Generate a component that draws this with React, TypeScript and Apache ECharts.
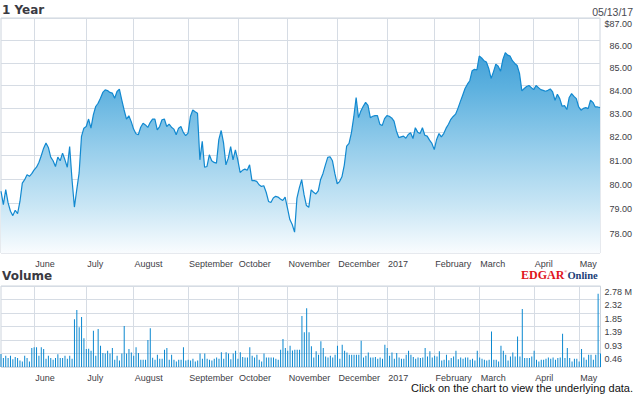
import React, { useEffect, useRef } from 'react';
import * as echarts from 'echarts';

// ---- Data ----
const START_DATE = '2016-05-11';
const END_DATE = '2017-05-12';
const HOLIDAYS = ['2016-05-30', '2016-07-04', '2016-09-05', '2016-11-24', '2016-12-26', '2017-01-02', '2017-01-16', '2017-02-20', '2017-04-14'];

const MONTH_LABELS: Record<string, string> = {
  '2016-06': 'June', '2016-07': 'July', '2016-08': 'August', '2016-09': 'September',
  '2016-10': 'October', '2016-11': 'November', '2016-12': 'December', '2017-01': '2017',
  '2017-02': 'February', '2017-03': 'March', '2017-04': 'April', '2017-05': 'May',
};

const PRICE_TICKS = [78, 79, 80, 81, 82, 83, 84, 85, 86, 87];
const VOLUME_MAX = 2.78;

const PRICE = [
  79.51, 78.96, 79.58, 79.03, 78.69, 78.51, 78.73, 78.59, 79.09, 79.85,
  79.99, 80.20, 80.13, 80.24, 80.40, 80.51, 80.71, 80.99, 81.31, 81.53,
  81.34, 80.93, 80.78, 80.54, 80.93, 80.78, 81.10, 80.82, 80.51, 81.38,
  79.99, 78.86, 79.58, 80.27, 81.81, 82.16, 82.23, 82.55, 82.16, 82.73,
  83.09, 83.23, 83.45, 83.70, 83.81, 83.78, 83.70, 83.67, 83.45, 83.74,
  83.84, 83.38, 82.94, 82.55, 82.69, 82.44, 82.12, 81.92, 81.88, 82.20,
  82.37, 82.30, 82.19, 82.40, 82.55, 82.55, 82.09, 82.23, 82.52, 82.55,
  82.23, 82.33, 82.20, 82.12, 81.88, 82.16, 82.23, 81.98, 81.84, 81.95,
  82.66, 82.94, 82.86, 82.80, 80.82, 81.60, 80.51, 80.54, 81.03, 80.78,
  80.71, 80.68, 81.67, 82.06, 81.53, 80.61, 80.89, 81.38, 80.82, 81.24,
  80.82, 80.29, 80.38, 80.43, 80.38, 80.61, 79.95, 79.95, 79.92, 79.78,
  79.71, 79.74, 79.47, 79.09, 79.05, 79.23, 79.30, 79.27, 79.19, 79.13,
  79.27, 78.82, 78.35, 78.15, 77.84, 79.23, 79.65, 79.99, 79.37, 78.92,
  78.85, 79.57, 79.47, 79.40, 79.53, 80.00, 80.25, 80.60, 80.92, 80.95,
  80.78, 80.25, 79.82, 79.91, 80.11, 80.60, 81.40, 81.51, 81.96, 82.64,
  83.48, 82.61, 82.90, 83.10, 83.27, 83.14, 82.61, 82.67, 82.70, 82.70,
  82.33, 82.27, 82.57, 82.70, 82.67, 82.60, 82.46, 82.04, 81.76, 81.79,
  81.82, 81.73, 81.89, 81.96, 81.72, 82.18, 81.99, 81.93, 82.18, 81.86,
  81.82, 81.65, 81.51, 81.25, 81.68, 81.93, 81.79, 81.93, 82.16, 82.33,
  82.54, 82.66, 82.76, 83.01, 83.30, 83.58, 83.87, 84.06, 84.21, 84.65,
  84.71, 84.68, 85.30, 85.21, 85.09, 85.03, 84.75, 84.31, 84.60, 84.94,
  84.85, 84.63, 85.15, 85.45, 85.34, 85.30, 85.09, 84.97, 84.88, 84.53,
  83.77, 83.87, 83.96, 84.00, 83.91, 83.82, 84.00, 83.91, 83.82, 83.79,
  83.75, 83.79, 83.85, 83.72, 83.36, 83.62, 83.43, 83.10, 83.13, 82.96,
  83.48, 83.65, 83.53, 83.43, 83.07, 82.93, 83.01, 83.04, 83.00, 83.36,
  83.27, 83.07, 83.07, 83.04,
];

const VOLUME = [
  0.45, 0.31, 0.39, 0.31, 0.39, 0.27, 0.34, 0.31, 0.22, 0.19,
  0.39, 0.31, 0.19, 0.65, 0.68, 0.68, 0.39, 0.68, 0.62, 0.28,
  0.39, 0.31, 0.25, 0.31, 0.44, 0.31, 0.31, 0.39, 0.28, 0.39,
  0.28, 1.64, 1.96, 1.36, 1.72, 0.99, 0.62, 0.63, 0.56, 1.24,
  0.39, 1.30, 0.73, 0.48, 0.46, 0.56, 0.46, 0.65, 0.25, 0.39,
  0.22, 0.46, 1.41, 0.46, 0.62, 0.50, 0.39, 0.68, 0.48, 0.25,
  0.25, 0.25, 0.93, 1.33, 0.32, 0.25, 0.42, 0.28, 0.28, 0.59,
  0.65, 0.25, 0.42, 0.25, 0.19, 0.25, 0.25, 0.68, 0.22, 0.25,
  0.22, 0.28, 0.19, 0.22, 0.46, 0.28, 0.46, 0.28, 0.25, 0.22,
  0.28, 0.33, 0.28, 0.51, 0.28, 0.51, 0.46, 0.27, 0.46, 0.56,
  0.28, 0.51, 0.34, 0.33, 0.33, 0.68, 0.39, 0.33, 0.42, 0.25,
  0.19, 0.46, 0.33, 0.33, 0.33, 0.33, 0.28, 0.25, 0.59, 0.96,
  0.65, 0.56, 0.73, 0.57, 0.59, 0.59, 0.59, 1.75, 1.19, 2.02,
  1.19, 0.71, 0.33, 0.54, 0.42, 0.88, 0.65, 0.36, 0.33, 0.39,
  0.33, 0.42, 0.73, 0.28, 0.76, 0.56, 0.50, 0.42, 0.42, 0.42,
  0.42, 0.42, 0.90, 0.33, 0.39, 0.50, 0.33, 0.33, 0.34, 0.28,
  0.33, 0.28, 0.76, 0.65, 0.39, 0.50, 0.28, 0.48, 0.33, 0.28,
  0.28, 0.42, 0.56, 0.42, 0.34, 0.28, 0.33, 0.31, 0.33, 0.65,
  0.36, 0.54, 0.33, 0.39, 0.36, 0.54, 0.22, 0.25, 0.42, 0.23,
  0.31, 0.36, 0.56, 0.27, 0.33, 0.28, 0.33, 0.33, 0.25, 0.28,
  0.22, 0.56, 0.33, 0.28, 0.25, 0.22, 0.25, 1.22, 0.25, 0.25,
  0.19, 0.73, 0.56, 0.42, 0.22, 0.36, 0.50, 0.36, 1.05, 0.36,
  1.99, 0.31, 0.31, 0.31, 0.36, 0.56, 0.25, 0.19, 0.25, 0.25,
  0.28, 0.33, 0.28, 0.33, 0.25, 0.31, 0.33, 1.14, 0.31, 0.65,
  0.31, 0.19, 0.28, 0.28, 0.19, 0.62, 0.33, 0.25, 0.42, 0.42,
  0.25, 0.42, 2.51, 0.46,
];

function tradingDays(): string[] {
  const out: string[] = [];
  const d = new Date(START_DATE + 'T12:00:00Z');
  const end = new Date(END_DATE + 'T12:00:00Z');
  while (d <= end) {
    const wd = d.getUTCDay();
    const s = d.toISOString().slice(0, 10);
    if (wd !== 0 && wd !== 6 && HOLIDAYS.indexOf(s) < 0) out.push(s);
    d.setUTCDate(d.getUTCDate() + 1);
  }
  return out;
}

const DATES = tradingDays();

// ---- Styles ----
const FONT = '"Liberation Sans", Arial, sans-serif';
const TEXT = '#3d3d45';
const GRID_LINE = '#d6dce4';
const BORDER = '#cdd4dd';
const BLUE = '#1289d0';

const isMonthStart = (i: number) => i > 0 && DATES[i].slice(0, 7) !== DATES[i - 1].slice(0, 7);

export default function App() {
  const ref = useRef<HTMLDivElement>(null);

  useEffect(() => {
    if (!ref.current) return;
    const chart = echarts.init(ref.current, undefined, { renderer: 'svg' });

    const xAxisBase = (gridIndex: number) => ({
      type: 'category' as const,
      gridIndex,
      data: DATES,
      boundaryGap: false,
      axisLine: { show: false },
      axisTick: { show: false },
      axisLabel: {
        interval: (i: number) => isMonthStart(i),
        formatter: (v: string) => MONTH_LABELS[v.slice(0, 7)] || '',
        align: 'left',
        margin: 6,
        padding: [0, 0, 0, 1],
        fontSize: 9,
        fontFamily: FONT,
        color: TEXT,
      },
      splitLine: {
        show: true,
        interval: (i: number) => isMonthStart(i),
        lineStyle: { color: GRID_LINE, width: 1 },
      },
    });

    const option: any = {
      animation: false,
      backgroundColor: '#ffffff',
      grid: [
        { left: 1, top: 18, width: 601, height: 235, show: true, borderColor: BORDER, borderWidth: 1, backgroundColor: 'transparent' },
        { left: 1, top: 286, width: 601, height: 81, show: true, borderColor: BORDER, borderWidth: 1, backgroundColor: 'transparent' },
      ],
      xAxis: [xAxisBase(0), xAxisBase(1)],
      yAxis: [
        {
          type: 'log',
          logBase: 10,
          gridIndex: 0,
          min: 77,
          max: 87,
          position: 'right',
          axisLine: { show: false },
          axisTick: { show: false, customValues: PRICE_TICKS },
          axisLabel: {
            customValues: PRICE_TICKS,
            formatter: (v: number) => {
              const r = Math.round(v);
              return (r === 87 ? '$' : '') + r.toFixed(2);
            },
            align: 'right',
            margin: 32,
            verticalAlign: 'top',
            lineHeight: 11,
            fontSize: 9,
            fontFamily: FONT,
            color: TEXT,
          },
          splitLine: { show: true, lineStyle: { color: GRID_LINE, width: 1 } },
        },
        {
          type: 'value',
          gridIndex: 1,
          min: 0,
          max: VOLUME_MAX,
          interval: VOLUME_MAX / 6,
          position: 'right',
          axisLine: { show: false },
          axisTick: { show: false },
          axisLabel: {
            formatter: (v: number) => {
              if (v < 0.01) return '';
              if (Math.abs(v - VOLUME_MAX) < 0.01) return v.toFixed(2) + ' M';
              return v.toFixed(2);
            },
            align: 'left',
            margin: 4,
            verticalAlign: 'top',
            lineHeight: 11,
            fontSize: 9,
            fontFamily: FONT,
            color: TEXT,
          },
          splitLine: { show: true, lineStyle: { color: GRID_LINE, width: 1 } },
        },
      ],
      series: [
        {
          type: 'line',
          xAxisIndex: 0,
          yAxisIndex: 0,
          data: PRICE,
          showSymbol: false,
          symbol: 'none',
          lineStyle: { color: BLUE, width: 1.2 },
          areaStyle: {
            origin: 'start',
            color: new echarts.graphic.LinearGradient(0, 18, 0, 253, [
              { offset: 0, color: '#2a8fd0' },
              { offset: 0.3, color: '#5db1df' },
              { offset: 0.55, color: '#95cdeb' },
              { offset: 0.8, color: '#c9e6f5' },
              { offset: 1, color: '#f9fcfe' },
            ], true),
            opacity: 1,
          },
        },
        {
          type: 'bar',
          xAxisIndex: 1,
          yAxisIndex: 1,
          data: VOLUME,
          barWidth: 1,
          itemStyle: { color: '#0b88d0' },
        },
      ],
      graphic: [
        { type: 'text', x: 2, y: 10, style: { text: '1 Year', font: 'bold 12px "DejaVu Sans"', fill: '#3a3a42', verticalAlign: 'middle' } },
        { type: 'text', x: 633, y: 12, style: { text: '05/13/17', font: '10.5px "Liberation Sans"', fill: '#4a4a52', align: 'right', verticalAlign: 'middle' } },
        { type: 'text', x: 2, y: 276, style: { text: 'Volume', font: 'bold 12px "DejaVu Sans"', fill: '#3a3a42', verticalAlign: 'middle' } },
        {
          type: 'text',
          x: 521,
          y: 275,
          style: {
            text: '{a|EDGAR}{b|®}{c|Online}',
            verticalAlign: 'middle',
            rich: {
              a: { fontFamily: '"Liberation Serif"', fontWeight: 'bold', fontSize: 12, fill: '#e0141c', color: '#e0141c' },
              b: { fontFamily: '"Liberation Serif"', fontSize: 4, fill: '#e0141c', color: '#e0141c', verticalAlign: 'top' },
              c: { fontFamily: '"Liberation Serif"', fontWeight: 'bold', fontSize: 10.5, fill: '#1c3f78', color: '#1c3f78' },
            },
          },
        },
        { type: 'text', x: 633, y: 388, style: { text: 'Click on the chart to view the underlying data.', font: '11px "Liberation Sans"', fill: '#111111', align: 'right', verticalAlign: 'middle' } },
      ],
    };

    chart.setOption(option);
    return () => chart.dispose();
  }, []);

  return (
    <div
      ref={ref}
      style={{ position: 'fixed', left: 0, top: 0, width: 635, height: 395, background: '#fff' }}
    />
  );
}
